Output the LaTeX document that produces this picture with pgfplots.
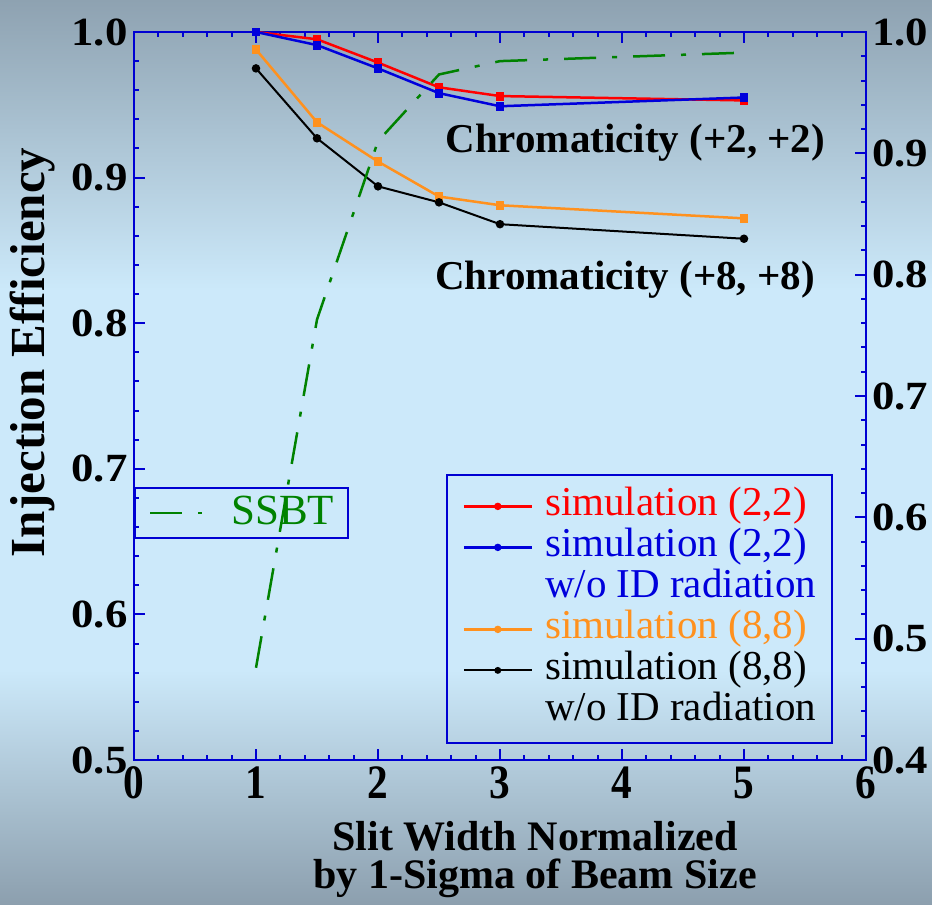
\documentclass[border=0pt]{standalone}
\usepackage{fontspec}
\setmainfont{Liberation Serif}
\newfontfamily\ytickfont{Liberation Serif}[FakeStretch=1.12]
\newfontfamily\xtickfont{Liberation Serif}[FakeStretch=0.86]
\usepackage{pgfplots}
\pgfplotsset{compat=1.18}

\definecolor{bgtop}{RGB}{142,162,177}
\definecolor{bgmid}{RGB}{204,233,250}
\definecolor{bgbot}{RGB}{140,159,174}
\definecolor{axblue}{RGB}{0,0,210}
\definecolor{simred}{RGB}{255,0,0}
\definecolor{simblue}{RGB}{0,0,220}
\definecolor{simorange}{RGB}{255,145,30}
\definecolor{ssbtgreen}{RGB}{0,130,0}

% page background: dark edges, light band in the middle
\pgfdeclareverticalshading{pagebg}{100bp}{%
  color(0bp)=(bgbot); color(25bp)=(bgbot); color(38bp)=(bgmid);
  color(59bp)=(bgmid); color(75bp)=(bgtop); color(100bp)=(bgtop)}

\pgfplotsset{
  frame/.style={
    at={(67pt,72.5pt)}, anchor=south west,
    scale only axis, width=366pt, height=364pt,
    xmin=0, xmax=6,
    tick align=inside,
    major tick length=5.5pt, minor tick length=2.5pt,
    every tick/.style={axblue, line width=1pt},
    axis line style={axblue, line width=1.25pt},
    /pgf/number format/assume math mode=true,
    y tick label style={font=\ytickfont\bfseries\fontsize{20}{20}\selectfont,
      inner xsep=3pt,
      /pgf/number format/fixed, /pgf/number format/fixed zerofill,
      /pgf/number format/precision=1},
    x tick label style={font=\xtickfont\bfseries\fontsize{24}{24}\selectfont},
  },
}

\begin{document}
\begin{tikzpicture}
\useasboundingbox (0,0) rectangle (466pt,452.5pt);
\shade[shading=pagebg] (0,0) rectangle (466pt,452.5pt);

% left axis: simulations
\begin{axis}[frame,
  ymin=0.5, ymax=1.0,
  xtick={0,1,2,3,4,5,6}, ytick={0.5,0.6,0.7,0.8,0.9,1.0},
  minor x tick num=4, minor y tick num=4,
  xtick pos=both, ytick pos=left,
  clip=false,
  xlabel={Slit Width Normalized\\by 1-Sigma of Beam Size},
  xlabel style={at={(axis description cs:0.548,-0.137)}, anchor=center,
    align=center, font=\bfseries\fontsize{21}{19}\selectfont},
  ylabel={Injection Efficiency},
  ylabel style={at={(axis description cs:-0.139,0.56)}, anchor=center,
    font=\bfseries\fontsize{24.5}{24.5}\selectfont},
  legend style={at={(axis description cs:0.955,0.393)}, anchor=north east,
    draw=axblue, line width=1pt, fill=none,
    inner xsep=8pt, inner ysep=5.5pt,
    column sep=6pt, row sep=0pt,
    font=\fontsize{20.5}{20.5}\selectfont,
    nodes={inner sep=0pt, text height=15pt, text depth=5.5pt},
    cells={anchor=west}},
  legend image code/.code={
    \draw[mark repeat=2, mark phase=2, #1, mark=*, mark size=1.2pt]
      plot coordinates {(0pt,0pt) (17pt,0pt) (34pt,0pt)};},
]
\addplot[simred, line width=1.25pt, mark=square*, mark size=1.6pt]
  coordinates {(1,1.000)(1.5,0.995)(2,0.979)(2.5,0.962)(3,0.956)(5,0.953)};
\addlegendentry[text=simred]{simulation (2,2)}
\addplot[simblue, line width=1.25pt, mark=square*, mark size=1.6pt]
  coordinates {(1,1.000)(1.5,0.991)(2,0.975)(2.5,0.958)(3,0.949)(5,0.955)};
\addlegendentry[text=simblue]{simulation (2,2)}
\addlegendimage{empty legend}
\addlegendentry[text=simblue]{w/o ID radiation}
\addplot[simorange, line width=1.25pt, mark=square*, mark size=1.6pt]
  coordinates {(1,0.988)(1.5,0.938)(2,0.911)(2.5,0.887)(3,0.881)(5,0.872)};
\addlegendentry[text=simorange]{simulation (8,8)}
\addplot[black, line width=1pt, mark=*, mark size=1.6pt]
  coordinates {(1,0.975)(1.5,0.927)(2,0.894)(2.5,0.883)(3,0.868)(5,0.858)};
\addlegendentry[text=black]{simulation (8,8)}
\addlegendimage{empty legend}
\addlegendentry[text=black]{w/o ID radiation}

\node[anchor=base west, inner sep=0pt, font=\bfseries\fontsize{20.5}{20.5}\selectfont]
  at (axis cs:2.55,0.917) {Chromaticity (+2, +2)};
\node[anchor=base west, inner sep=0pt, font=\bfseries\fontsize{20.5}{20.5}\selectfont]
  at (axis cs:2.467,0.823) {Chromaticity (+8, +8)};
\end{axis}

% right axis: SSBT
\begin{axis}[frame,
  ymin=0.4, ymax=1.0,
  axis x line=none, axis y line*=right,
  ytick={0.4,0.5,0.6,0.7,0.8,0.9,1.0}, minor y tick num=4,
  ytick pos=right, yticklabel pos=right,
  legend style={at={(axis description cs:0,0.375)}, anchor=north west,
    draw=axblue, line width=1pt, fill=none,
    inner xsep=7pt, inner ysep=3pt,
    column sep=14pt,
    font=\fontsize{21.5}{21.5}\selectfont,
    nodes={inner sep=0pt, text height=15pt, text depth=4pt},
    cells={anchor=west}},
  legend image code/.code={
    \draw[#1] (0pt,0pt) -- (26pt,0pt);},
]
\addplot[ssbtgreen, line width=1.25pt,
  dash pattern=on 16pt off 8pt on 2.5pt off 8pt]
  coordinates {(1,0.476)(1.5,0.763)(2,0.910)(2.5,0.965)(3,0.976)(5,0.983)};
\addlegendentry[text=ssbtgreen]{SSBT}
\end{axis}
\end{tikzpicture}
\end{document}
